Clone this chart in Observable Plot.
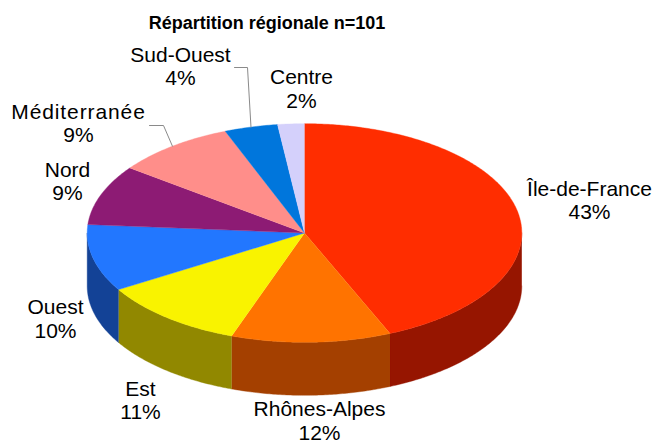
<!DOCTYPE html>
<html lang="fr">
<head>
<meta charset="utf-8">
<script src="https://cdn.jsdelivr.net/npm/d3@7"></script>
<script src="https://cdn.jsdelivr.net/npm/@observablehq/plot@0.6"></script>
<style>
  html, body { margin: 0; padding: 0; background: #fff; overflow: hidden; }
  #title { position: absolute; left: 0; top: 12px; width: 534px; text-align: center;
           font: bold 18px "Liberation Sans", Arial, sans-serif; line-height: 22px; color: #000; }
  #chart { position: absolute; left: 0; top: 40px; }
  #chart svg { display: block; }
</style>
</head>
<body>
<div id="title">Répartition régionale n=101</div>
<div id="chart"></div>
<script>
// ---- data ----
const regions = ["Île-de-France", "Rhônes-Alpes", "Est", "Ouest", "Nord", "Méditerranée", "Sud-Ouest", "Centre"];
const counts = [44, 12, 11, 10, 9, 9, 4, 2];
const percentLabels = ["43%", "12%", "11%", "10%", "9%", "9%", "4%", "2%"];
const topColors = ["#ff2d00", "#ff7300", "#f9f300", "#2277ff", "#8d1b74", "#ff8e8a", "#0076dc", "#d4d0fb"];
const sideColors = ["#961500", "#a44000", "#918800", "#134296", "#55104a", "#995553", "#00467f", "#7f7d97"];

// ---- layout (page pixels) ----
const W = 653, H = 443, top0 = 40;
const cx = 304, cy = 232.5, rx = 217.3, ry = 109.3, wall = 53;
const labelCenters = [[589, 199.5], [319, 420], [140, 399.5], [55, 318], [67, 180.5], [78, 122.5], [180, 65.5], [301, 88]];
const leaderElbows = {"Méditerranée": [[149, 125], [163, 125]], "Sud-Ouest": [[234, 67], [247, 67]]};

const ux = px => (px - cx) / rx;
const uy = py => (cy - py) / ry;
const depth = wall / ry;
const total = d3.sum(counts);
const TAU = 2 * Math.PI;

// Slice boundaries, clockwise from twelve o'clock
let acc = 0;
const slices = regions.map((region, i) => {
  const a0 = acc / total * TAU;
  acc += counts[i];
  const a1 = acc / total * TAU;
  return {region, i, a0, a1, mid: (a0 + a1) / 2};
});
const arc = (a0, a1) => {
  const n = Math.max(2, Math.ceil((a1 - a0) / 0.01));
  return d3.range(n + 1).map(k => a0 + (a1 - a0) * k / n);
};

// Front wall (only the part of the rim that faces the viewer)
const wallRows = [];
for (const s of slices) {
  const a0 = Math.max(s.a0, Math.PI / 2), a1 = Math.min(s.a1, 3 * Math.PI / 2);
  if (a1 <= a0) continue;
  const angles = arc(a0, a1);
  for (const a of angles) wallRows.push({key: s.region, color: sideColors[s.i], x: Math.sin(a), y: Math.cos(a)});
  for (const a of angles.slice().reverse()) wallRows.push({key: s.region, color: sideColors[s.i], x: Math.sin(a), y: Math.cos(a) - depth});
}

// Top face
const topRows = [];
for (const s of slices) {
  topRows.push({key: s.region, color: topColors[s.i], x: 0, y: 0});
  for (const a of arc(s.a0, s.a1)) topRows.push({key: s.region, color: topColors[s.i], x: Math.sin(a), y: Math.cos(a)});
}

// Leader lines: from label elbow to the rim at the slice's mid-angle
const leaderRows = [];
for (const s of slices) {
  const elbows = leaderElbows[s.region];
  if (!elbows) continue;
  for (const [px, py] of elbows) leaderRows.push({key: s.region, x: ux(px), y: uy(py)});
  leaderRows.push({key: s.region, x: Math.sin(s.mid), y: Math.cos(s.mid)});
}

const labelRows = slices.map(s => ({
  text: s.region + "\n" + percentLabels[s.i],
  x: ux(labelCenters[s.i][0]),
  y: uy(labelCenters[s.i][1])
}));

const chart = Plot.plot({
  width: W,
  height: H - top0,
  margin: 0,
  style: {background: "transparent"},
  x: {domain: [-1, 1], range: [cx - rx, cx + rx], axis: null},
  y: {domain: [-1, 1], range: [cy + ry - top0, cy - ry - top0], axis: null},
  color: {type: "identity"},
  marks: [
    Plot.line(wallRows, {x: "x", y: "y", z: "key", fill: "color", stroke: "color", strokeWidth: 0.4, curve: "linear"}),
    Plot.line(topRows, {x: "x", y: "y", z: "key", fill: "color", stroke: "color", strokeWidth: 0.4, curve: "linear"}),
    Plot.line(leaderRows, {x: "x", y: "y", z: "key", stroke: "#8a8a8a", strokeWidth: 1, curve: "linear"}),
    Plot.text(labelRows, {x: "x", y: "y", text: "text", fontSize: 21, lineHeight: 1.11, fill: "#000",
      fontFamily: "Liberation Sans, Arial, sans-serif", textAnchor: "middle", lineAnchor: "middle"})
  ]
});
document.getElementById("chart").append(chart);
// The reference sets this one long label a little wider than the font's natural spacing.
chart.querySelectorAll("tspan").forEach(t => {
  if (t.textContent === "Méditerranée") t.style.letterSpacing = "0.9px";
});
</script>
</body>
</html>
